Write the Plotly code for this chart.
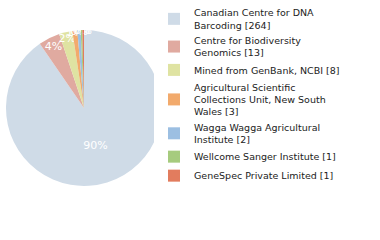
import plotly.graph_objects as go

labels = [
    "Canadian Centre for DNA<br>Barcoding [264]",
    "Centre for Biodiversity<br>Genomics [13]",
    "Mined from GenBank, NCBI [8]",
    "Agricultural Scientific<br>Collections Unit, New South<br>Wales [3]",
    "Wagga Wagga Agricultural<br>Institute [2]",
    "Wellcome Sanger Institute [1]",
    "GeneSpec Private Limited [1]",
]
values = [264, 13, 8, 3, 2, 1, 1]
pct_text = ["90%", "4%", "2%", "1%", "0%", "0%", "0%"]
colors = ["#cfdbe7", "#e0aaa0", "#dfe3a2", "#f2aa6c", "#9cbfe2", "#a6cb7e", "#e27c5e"]

fig = go.Figure(go.Pie(
    labels=labels,
    values=values,
    text=pct_text,
    textinfo="text",
    textposition="inside",
    insidetextorientation="horizontal",
    sort=False,
    direction="clockwise",
    rotation=0,
    marker=dict(colors=colors, line=dict(width=0)),
    textfont=dict(color="white", size=11, family="DejaVu Sans"),
    domain=dict(x=[6/380, 162/380], y=[1-186/240, 1-30/240]),
    hoverinfo="none",
))

fig.update_layout(
    width=380, height=240,
    margin=dict(l=0, r=0, t=0, b=0),
    paper_bgcolor="white",
    uniformtext=dict(minsize=10, mode="show"),
    legend=dict(
        x=154/380, y=1, xanchor="left", yanchor="top",
        font=dict(family="DejaVu Sans", size=9.5, color="#222"),
        tracegroupgap=0, itemwidth=30,
    ),
)
fig.write_html("out.html")
